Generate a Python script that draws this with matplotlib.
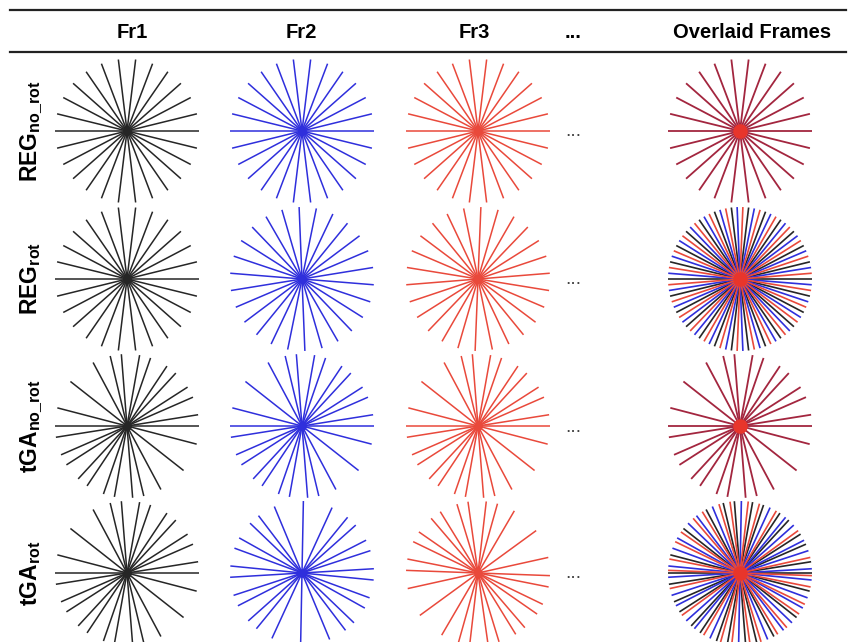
import numpy as np
import matplotlib.pyplot as plt

plt.rcParams['font.family'] = ['Liberation Sans', 'DejaVu Sans']
plt.rcParams['mathtext.fontset'] = 'custom'
plt.rcParams['mathtext.bf'] = 'Liberation Sans:bold'
plt.rcParams['mathtext.rm'] = 'Liberation Sans'

# spoke angles (degrees, each one is a full diameter)
reg_fr1 = [0, 13.8, 27.7, 41.5, 55.4, 69.2, 83.1, 96.9, 110.8, 124.6, 138.5, 152.3, 166.2]
reg_rot_fr2 = [-4.6, 9.2, 23.1, 36.9, 50.8, 64.6, 78.5, 92.3, 106.2, 120.0, 133.8, 147.7, 161.5]
reg_rot_fr3 = [-9.2, 4.6, 18.5, 32.3, 46.2, 60.0, 73.8, 87.7, 101.5, 115.4, 129.2, 143.1, 156.9]
tga_fr1 = [0, 9.0, 23.6, 32.7, 47.3, 56.3, 70.9, 79.9, 94.5, 103.5, 118.1, 141.8, 165.4]
tga_rot_fr2 = [3.4, 18.1, 27.1, 41.7, 50.7, 65.3, 88.9, 112.6, 127.2, 136.2, 150.8, 159.8, 174.4]
tga_rot_fr3 = [12.5, 36.1, 59.7, 74.3, 83.4, 98.0, 107.0, 121.6, 130.6, 145.2, 154.2, 168.8, 177.9]

row_labels = [r'$\mathbf{REG}_{\mathbf{no\_rot}}$', r'$\mathbf{REG}_{\mathbf{rot}}$',
              r'$\mathbf{tGA}_{\mathbf{no\_rot}}$', r'$\mathbf{tGA}_{\mathbf{rot}}$']
row_frames = [
    [reg_fr1, reg_fr1, reg_fr1],
    [reg_fr1, reg_rot_fr2, reg_rot_fr3],
    [tga_fr1, tga_fr1, tga_fr1],
    [tga_fr1, tga_rot_fr2, tga_rot_fr3],
]
row_rotated = [False, True, False, True]
col_headers = ['Fr1', 'Fr2', 'Fr3', '...', 'Overlaid Frames']

frame_colors = ['#262626', '#2f2fdc', '#e9493b']
overlay_color = '#a3263f'
dot_color = '#e8352b'

# layout in pixels
W, H = 850, 642
col_x = [127, 302, 478, 573, 740]
header_x = [132, 301, 474, 573, 752]
row_y = [131, 279, 426, 573]
R = 72

fig = plt.figure(figsize=(W / 100, H / 100), dpi=100)
ax = fig.add_axes([0, 0, 1, 1])
ax.set_xlim(0, W)
ax.set_ylim(H, 0)
ax.axis('off')


def star(cx, cy, angles, color, lw=1.1):
    for a in angles:
        t = np.deg2rad(a)
        dx, dy = R * np.cos(t), R * np.sin(t)
        ax.plot([cx - dx, cx + dx], [cy + dy, cy - dy], color=color, lw=lw,
                solid_capstyle='butt')


# header rules and titles
ax.plot([10, 846], [10, 10], color='#222222', lw=1.6)
ax.plot([10, 846], [52, 52], color='#222222', lw=1.6)
for x, h in zip(header_x, col_headers):
    ax.text(x, 32, h, ha='center', va='center', fontsize=14.5, fontweight='bold')

for r, (lab, frames) in enumerate(zip(row_labels, row_frames)):
    cy = row_y[r]
    ax.text(37, cy, lab, rotation=90, rotation_mode='anchor', ha='center',
            va='baseline', fontsize=16.5)
    for c in range(3):
        star(col_x[c], cy, frames[c], frame_colors[c])
        ax.scatter([col_x[c]], [cy], s=40, color=frame_colors[c], zorder=3,
                   linewidths=0)
    ax.text(col_x[3], cy + 1, '...', ha='center', va='center', fontsize=14,
            color='#444444')
    ox = col_x[4]
    if row_rotated[r]:
        for c in range(3):
            star(ox, cy, frames[c], frame_colors[c], lw=1.2)
    else:
        star(ox, cy, frames[0], overlay_color, lw=1.3)
    ax.scatter([ox], [cy], s=110, color=dot_color, zorder=3, linewidths=0)

fig.savefig('out.png', dpi=100)
